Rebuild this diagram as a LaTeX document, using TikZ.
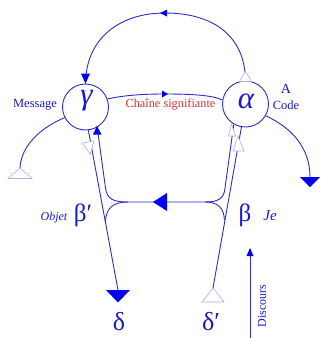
\documentclass[tikz,border=0pt]{standalone}
\usepackage{fontspec}
\setmainfont{Liberation Serif}
\definecolor{lnc}{RGB}{45,45,200}
\definecolor{txc}{RGB}{25,25,205}
\definecolor{fac}{RGB}{0,0,240}
\definecolor{palec}{RGB}{175,175,215}
\definecolor{redc}{RGB}{210,50,60}
\begin{document}
\begin{tikzpicture}[x=1pt,y=-1pt,
  lnk/.style={draw=lnc, line width=0.9pt},
  circ/.style={circle, draw=lnc, line width=0.9pt, minimum size=46pt, inner sep=0pt},
  ftri/.style={fill=fac},
  otri/.style={draw=palec, fill=white, line width=0.6pt},
  lbl/.style={text=txc, inner sep=0pt}]
\useasboundingbox[fill=white] (0,0) rectangle (321,338);

% circles
\node[circ] (gam) at (85.5,107) {};
\node[circ] (alp) at (245.5,104) {};
\node[lbl, font=\fontsize{31}{31}\selectfont\itshape] (gamt) at (86.5,101) {γ};
\node[lbl, font=\fontsize{31}{31}\selectfont\itshape] (alpt) at (246,101) {α};

% top arc
\coordinate (topm) at (165,13);
\draw[lnk] (alp.90) .. controls (245,35) and (212,13) .. (topm)
  .. controls (120,13) and (86,38) .. (gam.90);
\fill[fac] (gam.90) -- ++(-4.5,-10) -- ++(9,0) -- cycle;
\fill[fac] (160,13) -- (167,9.5) -- (167,16.5) -- cycle;
\filldraw[otri] (245.5,71) -- (239.5,81.5) -- (251.5,81.5) -- cycle;

% chaine signifiante
\coordinate (chm) at (165,94);
\draw[lnk] (gam.20) .. controls (125,95) and (145,94) .. (chm)
  .. controls (190,94) and (212,95) .. (alp.170);
\fill[fac] (168,94) -- (162,90.5) -- (162,97.5) -- cycle;
\node[lbl, text=redc, font=\fontsize{12.3}{12.3}\selectfont] (chaine) at (170.5,104) {Chaîne signifiante};

% labels near circles
\node[lbl, font=\fontsize{12.5}{12.5}\selectfont] (msg) at (35,105) {Message};
\node[lbl, font=\fontsize{14}{14}\selectfont] (alab) at (286,89) {A};
\node[lbl, font=\fontsize{12.5}{12.5}\selectfont] (code) at (286,105) {Code};

% left hook
\coordinate (ltri) at (20,168);
\draw[lnk] (gam.207) .. controls (42,127) and (21,145) .. (ltri);
\filldraw[otri] (ltri) -- (8,178.5) -- (32,178.5) -- cycle;

% right hook
\coordinate (rarr) at (310,177);
\draw[lnk] (alp.-30) .. controls (292,128) and (310,148) .. (rarr);
\fill[fac] (300,177) -- (320,177) -- (310,187) -- cycle;

% left pair
\coordinate (dA) at (118,290);
\coordinate (lin) at (105.5,188);
\coordinate (lh) at (128,202);
\coordinate (rh) at (205,202);
\coordinate (lj) at (105.4,222);
\draw[lnk] (gam.-83) -- (dA);
\draw[lnk] (gam.-60) -- (lin) .. controls (107,199) and (113,202) .. (lh) -- (rh);
\draw[lnk] (lh) .. controls (113,202) and (106,208) .. (lj);
\fill[fac] (97,126) -- (93,134.5) -- (101.5,134.5) -- cycle;
\filldraw[otri] (90.3,154) -- (94,140.9) -- (82.2,143.1) -- cycle;
\fill[fac] (106,290) -- (130,290) -- (118,302.5) -- cycle;

% right pair
\coordinate (dpA) at (213,288);
\coordinate (rin) at (225,188);
\coordinate (rj) at (224.4,220);
\draw[lnk] (alp.-100) -- (dpA);
\draw[lnk] (alp.-120) -- (rin) .. controls (224,199) and (218,202) .. (rh);
\draw[lnk] (rh) .. controls (218,202) and (224,208) .. (rj);
\filldraw[otri] (231.5,124) -- (228.5,136) -- (235.5,136) -- cycle;
\filldraw[otri] (238,136) -- (233,151) -- (244,151) -- cycle;
\filldraw[otri] (213,288) -- (202,302) -- (224,302) -- cycle;

% horizontal arrow
\fill[fac] (153,202) -- (167,193) -- (167,211) -- cycle;

% greek labels
\node[lbl, font=\fontsize{25}{25}\selectfont] (bp) at (83,215) {β′};
\node[lbl, font=\fontsize{12}{12}\selectfont\itshape] (objet) at (54,218) {Objet};
\node[lbl, font=\fontsize{25}{25}\selectfont] (bt) at (245,215) {β};
\node[lbl, font=\fontsize{15}{15}\selectfont\itshape] (je) at (270,216) {Je};
\node[lbl, font=\fontsize{26}{26}\selectfont] (dt) at (119,322) {δ};
\node[lbl, font=\fontsize{26}{26}\selectfont] (dpt) at (211,322) {δ′};

% discours
\coordinate (dsb) at (250,338);
\coordinate (dst) at (250,252);
\draw[draw=lnc, line width=0.6pt] (dsb) -- (dst);
\fill[fac] (250,248) -- (246.5,256) -- (253.5,256) -- cycle;
\node[lbl, rotate=90, font=\fontsize{12}{12}\selectfont] (disc) at (262,306) {Discours};
\end{tikzpicture}
\end{document}
